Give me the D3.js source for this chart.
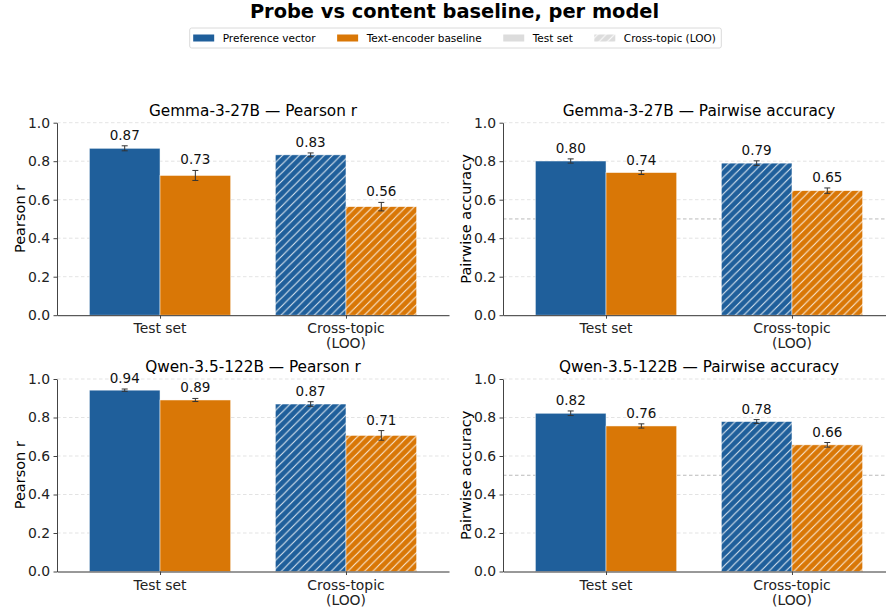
<!DOCTYPE html>
<html>
<head>
<meta charset="utf-8">
<script src="https://cdn.jsdelivr.net/npm/d3@7"></script>
<style>
  body { margin: 0; background: #fff; }
  svg { font-family: "DejaVu Sans", sans-serif; }
</style>
</head>
<body>
<svg id="chart" width="886" height="611"></svg>
<script>
var models = ["Gemma-3-27B", "Qwen-3.5-122B"];
var metrics = ["Pearson r", "Pairwise accuracy"];
var splits = [["Test set"], ["Cross-topic", "(LOO)"]];
var yTicks = [0, 0.2, 0.4, 0.6, 0.8, 1.0];
var chanceLevel = [null, 0.5];

// values[model][metric][split]
var prefValues = [[[0.867, 0.833], [0.801, 0.790]], [[0.942, 0.870], [0.822, 0.779]]];
var prefErrors = [[[0.013, 0.010], [0.011, 0.012]], [[0.006, 0.012], [0.012, 0.010]]];
var textValues = [[[0.726, 0.564], [0.741, 0.647]], [[0.891, 0.707], [0.756, 0.658]]];
var textErrors = [[[0.026, 0.022], [0.010, 0.014]], [[0.008, 0.025], [0.011, 0.012]]];

var legendLabels = ["Preference vector", "Text-encoder baseline", "Test set", "Cross-topic (LOO)"];

var BLUE = "#1f5f9b", ORANGE = "#d97706", LIGHT = "#dcdcdc";

var svg = d3.select("#chart");
var defs = svg.append("defs");

function hatch(id, color) {
  var h = 8.33;
  var p = defs.append("pattern")
    .attr("id", id)
    .attr("patternUnits", "userSpaceOnUse")
    .attr("width", h).attr("height", h);
  p.append("rect").attr("width", h).attr("height", h).attr("fill", color);
  p.append("path")
    .attr("d", "M-1,1 l2,-2 M0," + h + " l" + h + "," + (-h) + " M" + (h - 1) + "," + (h + 1) + " l2,-2")
    .attr("stroke", "#fff").attr("stroke-opacity", 0.85).attr("stroke-width", 1.1);
}
hatch("hatch-blue", BLUE);
hatch("hatch-orange", ORANGE);
hatch("hatch-light", LIGHT);

// suptitle
svg.append("text")
  .attr("x", 454.5).attr("y", 18)
  .attr("text-anchor", "middle")
  .style("font-size", "19.4px").style("font-weight", "bold")
  .text("Probe vs content baseline, per model");

// legend
var lg = svg.append("g");
var legendFills = [BLUE, ORANGE, LIGHT, "url(#hatch-light)"];
var lfs = 10.5, lx = 0;
legendLabels.forEach(function (lab, i) {
  var g = lg.append("g");
  g.append("rect").attr("x", 0).attr("y", -3.5).attr("width", 21).attr("height", 7)
    .attr("fill", legendFills[i]);
  var t = g.append("text").attr("x", 29.5).attr("y", 0).attr("dy", "0.36em")
    .style("font-size", lfs + "px").text(lab);
  var w = 29.5 + t.node().getComputedTextLength();
  g.attr("transform", "translate(" + lx + ",0)");
  lx += w + 21.5;
});
var lw = lx - 21.5;
lg.insert("rect", ":first-child")
  .attr("x", -3.5).attr("y", -10).attr("width", lw + 9).attr("height", 20)
  .attr("rx", 2).attr("fill", "#fff").attr("stroke", "#d0d0d0").attr("stroke-width", 0.8);
lg.attr("transform", "translate(" + (454.5 - lw / 2) + ",38)");

// panels
var panelLeft = [57, 503], panelTop = [122.7, 379];
var panelW = 392, panelH = 192.5;

models.forEach(function (model, r) {
  metrics.forEach(function (metric, c) {
    var x0 = panelLeft[c], y0 = panelTop[r];
    var g = svg.append("g").attr("transform", "translate(" + x0 + "," + y0 + ")");

    var x = d3.scaleLinear().domain([-0.554, 1.554]).range([0, panelW]);
    var y = d3.scaleLinear().domain([0, 1]).range([panelH, 0]);
    var bw = 0.38;

    // grid
    g.selectAll(".grid").data(yTicks.slice(1)).enter().append("line")
      .attr("x1", 0).attr("x2", panelW)
      .attr("y1", function (d) { return y(d); }).attr("y2", function (d) { return y(d); })
      .attr("stroke", "#dcdcdc").attr("stroke-width", 0.8).attr("stroke-dasharray", "3.5,2.5");

    if (chanceLevel[c] !== null) {
      g.append("line")
        .attr("x1", 0).attr("x2", panelW)
        .attr("y1", y(chanceLevel[c])).attr("y2", y(chanceLevel[c]))
        .attr("stroke", "#aaa").attr("stroke-width", 0.8).attr("stroke-dasharray", "3.5,2.5");
    }

    var series = [
      { vals: prefValues[r][c], errs: prefErrors[r][c], off: -bw / 2, color: BLUE, hatchId: "hatch-blue" },
      { vals: textValues[r][c], errs: textErrors[r][c], off: bw / 2, color: ORANGE, hatchId: "hatch-orange" }
    ];

    series.forEach(function (s) {
      var data = s.vals.map(function (v, i) { return { i: i, v: v, e: s.errs[i] }; });
      g.selectAll(null).data(data).enter().append("rect")
        .attr("x", function (d) { return x(d.i + s.off - bw / 2); })
        .attr("width", x(bw) - x(0))
        .attr("y", function (d) { return y(d.v); })
        .attr("height", function (d) { return y(0) - y(d.v); })
        .attr("fill", function (d) { return d.i === 0 ? s.color : "url(#" + s.hatchId + ")"; })
        .attr("stroke", "#fff").attr("stroke-opacity", 0.7).attr("stroke-width", 0.7);

      var eb = g.selectAll(null).data(data).enter().append("g")
        .attr("stroke", "#333").attr("stroke-width", 1);
      eb.append("line")
        .attr("x1", function (d) { return x(d.i + s.off); }).attr("x2", function (d) { return x(d.i + s.off); })
        .attr("y1", function (d) { return y(d.v - d.e); }).attr("y2", function (d) { return y(d.v + d.e); });
      [-1, 1].forEach(function (sg) {
        eb.append("line")
          .attr("x1", function (d) { return x(d.i + s.off) - 3; }).attr("x2", function (d) { return x(d.i + s.off) + 3; })
          .attr("y1", function (d) { return y(d.v + sg * d.e); }).attr("y2", function (d) { return y(d.v + sg * d.e); });
      });

      g.selectAll(null).data(data).enter().append("text")
        .attr("x", function (d) { return x(d.i + s.off); })
        .attr("y", function (d) { return y(d.v + d.e) - 6; })
        .attr("text-anchor", "middle")
        .style("font-size", "13.5px").attr("fill", "#111")
        .text(function (d) { return d3.format(".2f")(d.v); });
    });

    // axes
    var ya = g.append("g").call(d3.axisLeft(y).tickValues(yTicks).tickFormat(d3.format(".1f"))
      .tickSize(3.5).tickPadding(3.5).tickSizeOuter(0));
    ya.selectAll("text").style("font-size", "13.9px").style("font-family", "DejaVu Sans").attr("fill", "#222");
    ya.selectAll("line").attr("stroke", "#444");
    ya.select(".domain").attr("stroke", "#444");

    var xa = g.append("g").attr("transform", "translate(0," + panelH + ")")
      .call(d3.axisBottom(x).tickValues([0, 1]).tickFormat("").tickSize(3.5).tickSizeOuter(0));
    xa.selectAll("line").attr("stroke", "#444");
    xa.select(".domain").attr("stroke", "#333");

    splits.forEach(function (lines, i) {
      var t = g.append("text").attr("x", x(i)).attr("y", panelH + 18)
        .attr("text-anchor", "middle").style("font-size", "13.9px").attr("fill", "#222");
      lines.forEach(function (ln, k) {
        t.append("tspan").attr("x", x(i)).attr("dy", k === 0 ? 0 : 15).text(ln);
      });
    });

    // title and y label
    g.append("text").attr("x", panelW / 2).attr("y", -7)
      .attr("text-anchor", "middle").style("font-size", "15.3px")
      .text(model + " \u2014 " + metric);

    g.append("text")
      .attr("transform", "translate(-37," + (panelH / 2) + ") rotate(-90)")
      .attr("text-anchor", "middle").attr("dy", "0.36em")
      .style("font-size", "14.5px")
      .text(metric);
  });
});
</script>
</body>
</html>
